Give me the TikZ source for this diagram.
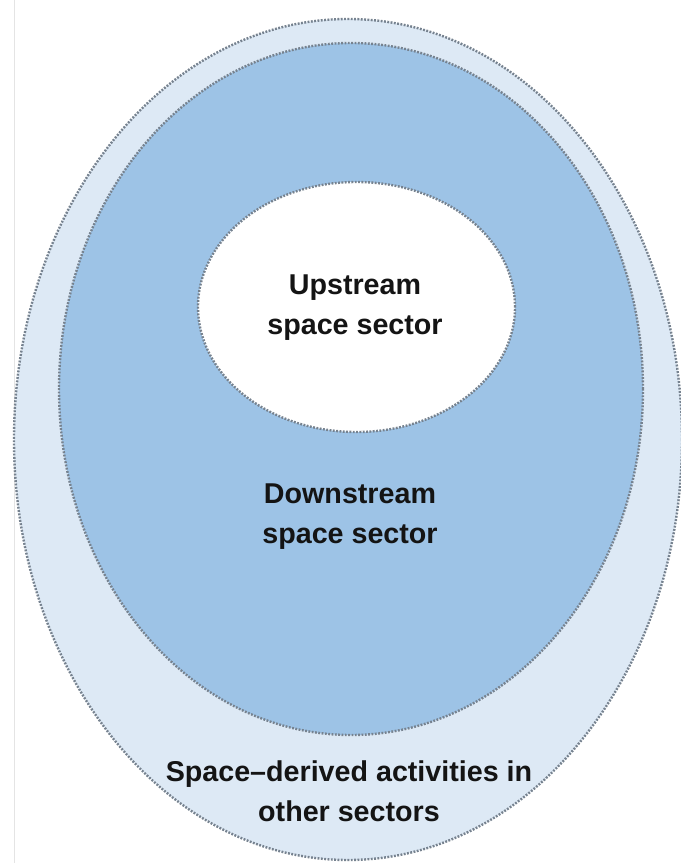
\documentclass[tikz,border=0pt]{standalone}
\usepackage{fontspec}
\setmainfont{Liberation Sans}
\usetikzlibrary{shapes.geometric}

\definecolor{outerfill}{HTML}{DDE9F5}
\definecolor{midfill}{HTML}{9DC3E6}
\definecolor{rimgray}{HTML}{76828F}
\definecolor{labelink}{HTML}{141414}
\definecolor{edgegray}{HTML}{E4E4E4}

\tikzset{
  zone/.style={ellipse, draw=rimgray, line width=1.8pt,
    dash pattern=on 1.4pt off 1.1pt, inner sep=0pt, outer sep=0pt},
  zonelabel/.style={align=center, text=labelink,
    font=\fontsize{21.5}{30}\selectfont\bfseries, inner sep=0pt}
}

\begin{document}
\begin{tikzpicture}[x=0.75pt, y=-0.75pt]
  \useasboundingbox (0,0) rectangle (681,863);
  \clip (0,0) rectangle (681,863);
  \fill[white] (0,0) rectangle (681,863);

  % faint page edge on the left
  \coordinate (edgetop) at (14,0);
  \coordinate (edgebot) at (14,863);
  \draw[edgegray, line width=0.6pt] (edgetop) -- (edgebot);

  % nested sectors
  \node[zone, fill=outerfill, minimum width=668*0.75pt, minimum height=841*0.75pt]
    (others) at (348,439.5) {};
  \node[zone, fill=midfill, minimum width=584*0.75pt, minimum height=692*0.75pt]
    (downstream) at (351,389) {};
  \node[zone, fill=white, minimum width=317*0.75pt, minimum height=250*0.75pt]
    (upstream) at (356.5,307) {};

  % labels
  \node[zonelabel] (uplabel) at (355,308) {Upstream\\space sector};
  \node[zonelabel] (downlabel) at (350,517) {Downstream\\space sector};
  \node[zonelabel] (otherlabel) at (349,791) {Space--derived activities in\\other sectors};
\end{tikzpicture}
\end{document}
